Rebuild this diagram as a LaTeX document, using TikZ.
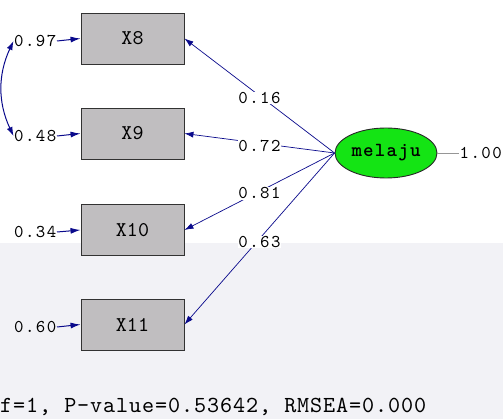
\documentclass[tikz,border=0pt]{standalone}
\usepackage{fontspec}
\usetikzlibrary{shapes.geometric,arrows.meta}
\newfontfamily\lmlbl[LetterSpace=8]{lmmono10-regular.otf}
\newfontfamily\lmbox{lmmono10-regular.otf}
\newfontfamily\lmlat[LetterSpace=6]{lmmonolt10-bold.otf}
\newfontfamily\lmfoot[LetterSpace=4]{lmmono10-regular.otf}
\newcommand{\lblfont}{\lmlbl\fontsize{18}{18}\selectfont}
\newcommand{\boxfont}{\lmbox\fontsize{21}{21}\selectfont}
\newcommand{\latfont}{\lmlat\fontsize{20}{20}\selectfont}
\newcommand{\footfont}{\lmfoot\fontsize{23}{23}\selectfont}
\definecolor{navy}{RGB}{10,10,140}
\definecolor{boxgray}{RGB}{192,190,192}
\definecolor{latgreen}{RGB}{20,228,20}
\definecolor{bglow}{RGB}{242,242,246}
\tikzset{
  obs/.style={draw={rgb,255:red,50;green,50;blue,50}, fill=boxgray, line width=0.9pt,
    minimum width=103pt, minimum height=51pt, inner sep=0pt, font=\boxfont},
  lat/.style={ellipse, draw={rgb,255:red,40;green,40;blue,40}, fill=latgreen, line width=0.9pt,
    minimum width=102pt, minimum height=50pt, inner sep=0pt, font=\latfont},
  errlbl/.style={inner sep=0.5pt, font=\lblfont},
  loadlbl/.style={inner sep=0.5pt, fill=white, font=\lblfont},
  path/.style={draw=navy, line width=0.7pt, -{Latex[length=9pt,width=6pt]}},
  errarr/.style={draw=navy, line width=1pt, -{Latex[length=10pt,width=6pt]}},
  cov/.style={draw=navy, line width=1pt, {Latex[length=9pt,width=6pt]}-{Latex[length=9pt,width=6pt]}},
}
\begin{document}
\begin{tikzpicture}[x=1pt,y=-1pt]
\useasboundingbox (0,0) rectangle (503,419);
\fill[white] (0,0) rectangle (503,243);
\fill[bglow] (0,243) rectangle (503,419);
\node[obs] (x8) at (132.5,38.5) {X8};
\node[obs] (x9) at (132.5,133.5) {X9};
\node[obs] (x10) at (132.5,230) {X10};
\node[obs] (x11) at (132.5,324.5) {X11};
\node[lat] (lat) at (386,153) {melaju};
\node[errlbl, anchor=east] (e8) at (57,41) {0.97};
\node[errlbl, anchor=east] (e9) at (57,136) {0.48};
\node[errlbl, anchor=east] (e10) at (57,232) {0.34};
\node[errlbl, anchor=east] (e11) at (57,327) {0.60};
\draw[errarr] (e8.east) -- (x8.west);
\draw[errarr] (e9.east) -- (x9.west);
\draw[errarr] (e10.east) -- (x10.west);
\draw[errarr] (e11.east) -- (x11.west);
\draw[cov] (e8.west) to[out=245,in=115] (e9.west);
\draw[path] (lat.west) -- node[loadlbl, pos=0.5, yshift=-2pt] {0.16} (x8.east);
\draw[path] (lat.west) -- node[loadlbl, pos=0.5, yshift=-3pt] {0.72} (x9.east);
\draw[path] (lat.west) -- node[loadlbl, pos=0.5, yshift=-2pt] {0.81} (x10.east);
\draw[path] (lat.west) -- node[loadlbl, pos=0.5, yshift=-3pt] {0.63} (x11.east);
\coordinate (vend) at (459,153);
\draw[draw={rgb,255:red,150;green,150;blue,150}, line width=0.7pt] (lat.east) -- (vend);
\node[errlbl, anchor=west] (v) at (vend) {1.00};
\node[inner sep=0pt, anchor=west, font=\footfont] (fit) at (0,407) {f=1, P-value=0.53642, RMSEA=0.000};
\end{tikzpicture}
\end{document}
